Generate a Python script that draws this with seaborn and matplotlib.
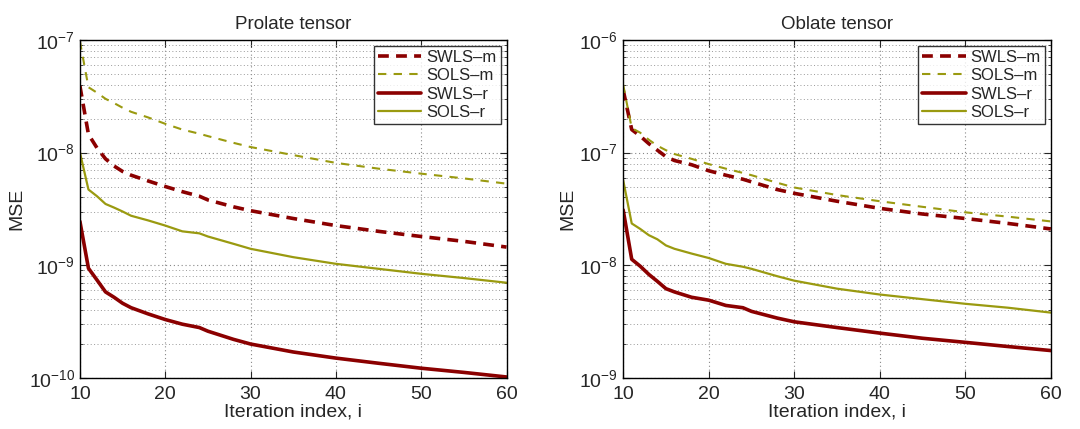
import numpy as np
import pandas as pd
import matplotlib
matplotlib.use('Agg')
import matplotlib.pyplot as plt
import matplotlib.ticker as mticker
import seaborn as sns

# iteration index
iters = [10, 11, 12, 13, 14, 15, 16, 18, 20, 22, 24, 25, 28, 30, 35, 40, 45, 50, 55, 60]

# Prolate tensor
prolate_swls_m = [3.9e-8, 1.45e-8, 1.1e-8, 8.8e-9, 7.6e-9, 6.8e-9, 6.3e-9, 5.6e-9, 5.0e-9, 4.5e-9,
                  4.1e-9, 3.8e-9, 3.3e-9, 3.05e-9, 2.6e-9, 2.25e-9, 2.0e-9, 1.8e-9, 1.63e-9, 1.45e-9]
prolate_sols_m = [9.7e-8, 3.8e-8, 3.4e-8, 3.0e-8, 2.75e-8, 2.5e-8, 2.3e-8, 2.05e-8, 1.8e-8, 1.6e-8,
                  1.47e-8, 1.4e-8, 1.22e-8, 1.12e-8, 9.5e-9, 8.1e-9, 7.2e-9, 6.5e-9, 5.9e-9, 5.3e-9]
prolate_swls_r = [2.45e-9, 9.4e-10, 7.4e-10, 5.8e-10, 5.2e-10, 4.6e-10, 4.2e-10, 3.7e-10, 3.3e-10, 3.0e-10,
                  2.8e-10, 2.6e-10, 2.2e-10, 2.0e-10, 1.7e-10, 1.5e-10, 1.35e-10, 1.22e-10, 1.12e-10, 1.02e-10]
prolate_sols_r = [1.0e-8, 4.7e-9, 4.1e-9, 3.5e-9, 3.25e-9, 3.0e-9, 2.75e-9, 2.5e-9, 2.25e-9, 2.0e-9,
                  1.92e-9, 1.8e-9, 1.55e-9, 1.4e-9, 1.18e-9, 1.03e-9, 9.3e-10, 8.4e-10, 7.7e-10, 7.0e-10]

# Oblate tensor
oblate_swls_m = [3.6e-7, 1.6e-7, 1.4e-7, 1.2e-7, 1.05e-7, 9.2e-8, 8.5e-8, 7.8e-8, 6.9e-8, 6.3e-8,
                 5.8e-8, 5.5e-8, 4.7e-8, 4.35e-8, 3.7e-8, 3.2e-8, 2.85e-8, 2.6e-8, 2.35e-8, 2.1e-8]
oblate_sols_m = [4.0e-7, 1.65e-7, 1.5e-7, 1.3e-7, 1.15e-7, 1.05e-7, 9.7e-8, 8.8e-8, 7.9e-8, 7.2e-8,
                 6.6e-8, 6.3e-8, 5.4e-8, 4.9e-8, 4.2e-8, 3.7e-8, 3.3e-8, 2.95e-8, 2.7e-8, 2.45e-8]
oblate_swls_r = [3.1e-8, 1.13e-8, 9.8e-9, 8.3e-9, 7.2e-9, 6.2e-9, 5.8e-9, 5.2e-9, 4.9e-9, 4.4e-9,
                 4.2e-9, 3.9e-9, 3.4e-9, 3.15e-9, 2.8e-9, 2.5e-9, 2.25e-9, 2.07e-9, 1.9e-9, 1.75e-9]
oblate_sols_r = [5.7e-8, 2.35e-8, 2.1e-8, 1.85e-8, 1.7e-8, 1.5e-8, 1.4e-8, 1.27e-8, 1.16e-8, 1.03e-8,
                 9.7e-9, 9.3e-9, 8.0e-9, 7.3e-9, 6.2e-9, 5.5e-9, 5.0e-9, 4.55e-9, 4.2e-9, 3.8e-9]

labels = ['SWLS\u2013m', 'SOLS\u2013m', 'SWLS\u2013r', 'SOLS\u2013r']

sns.set_style('ticks')
plt.rcParams['font.family'] = ['Liberation Sans', 'DejaVu Sans']
plt.rcParams['mathtext.fontset'] = 'custom'
plt.rcParams['mathtext.rm'] = 'Liberation Sans'
plt.rcParams['mathtext.it'] = 'Liberation Sans:italic'

red = '#8b0000'
olive = '#9a9a10'
styles = [
    dict(color=red, linewidth=2.6, linestyle=(0, (3, 2))),
    dict(color=olive, linewidth=1.5, linestyle=(0, (4, 3.5))),
    dict(color=red, linewidth=2.6, linestyle='-'),
    dict(color=olive, linewidth=1.6, linestyle='-'),
]


def draw_panel(ax, series, title, ylim):
    for y, lab, st in zip(series, labels, styles):
        sns.lineplot(x=iters, y=y, ax=ax, label=lab, **st)
    ax.set_yscale('log')
    ax.set_xlim(10, 60)
    ax.set_ylim(*ylim)
    ax.set_xticks([10, 20, 30, 40, 50, 60])
    ax.yaxis.set_major_locator(mticker.LogLocator(base=10, numticks=10))
    ax.yaxis.set_minor_locator(mticker.LogLocator(base=10, subs=np.arange(2, 10), numticks=20))
    ax.yaxis.set_minor_formatter(mticker.NullFormatter())
    ax.grid(which='major', linestyle=(0, (1, 2.5)), color='#888888', linewidth=0.8)
    ax.grid(which='minor', axis='y', linestyle=(0, (1, 2.5)), color='#999999', linewidth=0.7)
    ax.tick_params(which='both', direction='in', top=True, right=True, labelsize=14)
    ax.tick_params(axis='x', pad=6)
    ax.tick_params(which='major', length=5)
    ax.tick_params(which='minor', length=2.5)
    for sp in ax.spines.values():
        sp.set_visible(True)
        sp.set_linewidth(1.0)
        sp.set_color('black')
    ax.set_title(title, fontsize=13.5, pad=8)
    ax.set_xlabel('Iteration index, i', fontsize=14, labelpad=0)
    ax.set_ylabel('MSE', fontsize=14, labelpad=2)
    leg = ax.legend(loc='upper right', fontsize=12, frameon=True, fancybox=False,
                    handlelength=2.6, handletextpad=0.3, borderpad=0.25, labelspacing=0.2,
                    borderaxespad=0.35)
    leg.get_frame().set_edgecolor('black')
    leg.get_frame().set_linewidth(1.0)


fig = plt.figure(figsize=(10.8, 4.29), dpi=100)
ax1 = fig.add_axes([0.074, 0.119, 0.395, 0.788])
ax2 = fig.add_axes([0.577, 0.119, 0.396, 0.788])

draw_panel(ax1, [prolate_swls_m, prolate_sols_m, prolate_swls_r, prolate_sols_r],
           'Prolate tensor', (1e-10, 1e-7))
draw_panel(ax2, [oblate_swls_m, oblate_sols_m, oblate_swls_r, oblate_sols_r],
           'Oblate tensor', (1e-9, 1e-6))

fig.savefig('out.png', dpi=100, facecolor='white')
